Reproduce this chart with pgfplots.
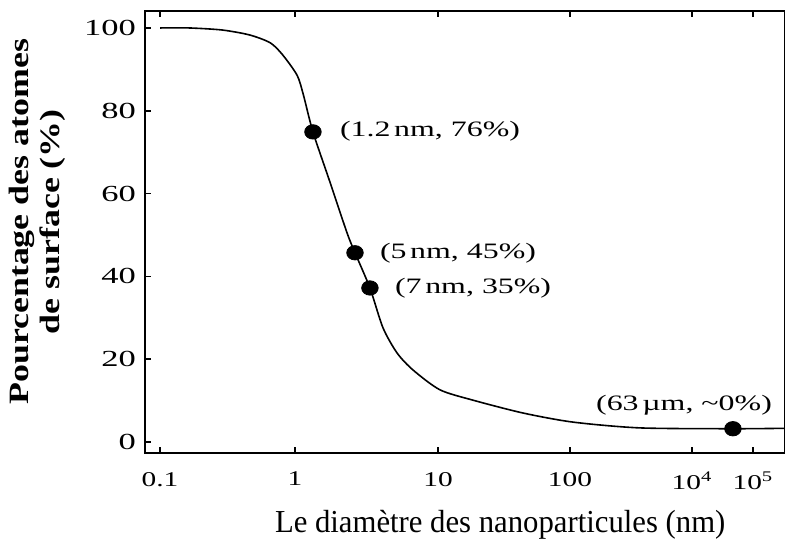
\documentclass[border=0pt]{standalone}
\usepackage{fontspec}
\setmainfont{Liberation Serif}
\newfontfamily\ytickfont[FakeStretch=1.5]{Liberation Serif}
\newfontfamily\xtickfont[FakeStretch=1.4]{Liberation Serif}
\newfontfamily\annfont[FakeStretch=1.45]{Liberation Serif}
\newfontfamily\ylabfont[FakeStretch=1.28]{Liberation Serif}
\newfontfamily\xlabfont[FakeStretch=0.96]{Liberation Serif}
\usepackage{pgfplots}
\pgfplotsset{compat=1.18}
\begin{document}
\begin{tikzpicture}
\begin{axis}[
  scale only axis,
  width=320pt, height=221pt,
  xmin=-1.095, xmax=3.577,
  ymin=-2.66, ymax=104.1,
  xtick={-0.985,0,1.044,2.007,2.898,3.343},
  xticklabels={0.1,1,10,100,10\textsuperscript{4},10\textsuperscript{5}},
  ytick={0,20,40,60,80,100},
  /pgf/number format/assume math mode=true,
  tick align=inside,
  major tick length=3pt,
  ytick pos=left,
  xtick pos=both,
  axis line style={line width=1pt},
  every tick/.style={black, line width=0.8pt},
  yticklabel style={font=\ytickfont\fontsize{11.5}{13}\selectfont, xshift=-1pt},
  xticklabel style={font=\xtickfont\fontsize{10.5}{12}\selectfont, yshift=-6pt},
  xlabel={Le diamètre des nanoparticules (nm)},
  xlabel style={font=\xlabfont\fontsize{16}{18}\selectfont, at={(axis description cs:0.555,-0.163)}, anchor=center},
  ylabel={Pourcentage des atomes\\de surface (\%)},
  ylabel style={font=\ylabfont\bfseries\fontsize{14}{15.5}\selectfont, align=center, at={(axis description cs:-0.169,0.523)}, anchor=center},
]
\addplot[black, line width=0.8pt, smooth, tension=0.45] coordinates {
(-0.985,100.0) (-0.77,100.0) (-0.53,99.5) (-0.33,98.3) (-0.18,96.4)
(-0.09,93.5) (0.015,88.6) (0.06,84.0) (0.131,74.9) (0.255,62.8)
(0.38,50.5) (0.438,45.7) (0.547,37.2) (0.642,27.6) (0.745,21.5)
(0.861,17.4) (1.058,12.6) (1.299,10.1) (1.664,7.0) (2.029,4.8)
(2.518,3.4) (3.197,3.2) (3.577,3.3)
};
\addplot[only marks, mark=*, mark size=3.6pt, black, mark options={xscale=1.15}] coordinates {
(0.131,74.9) (0.438,45.7) (0.547,37.2) (3.197,3.2)
};
\node[anchor=west, font=\annfont\fontsize{11}{12}\selectfont] at (axis cs:0.277,75.1) {(1.2\,nm, 76\%)};
\node[anchor=west, font=\annfont\fontsize{11}{12}\selectfont] at (axis cs:0.569,45.7) {(5\,nm, 45\%)};
\node[anchor=west, font=\annfont\fontsize{11}{12}\selectfont] at (axis cs:0.679,37.2) {(7\,nm, 35\%)};
\node[anchor=center, font=\annfont\fontsize{11}{12}\selectfont] at (axis cs:2.84,8.9) {(63\,µm, \textasciitilde0\%)};
\end{axis}
\pgfresetboundingbox
\path[use as bounding box] ([xshift=-72.5pt,yshift=-48pt]current axis.south west) rectangle ([yshift=5.5pt]current axis.north east);
\end{tikzpicture}
\end{document}
